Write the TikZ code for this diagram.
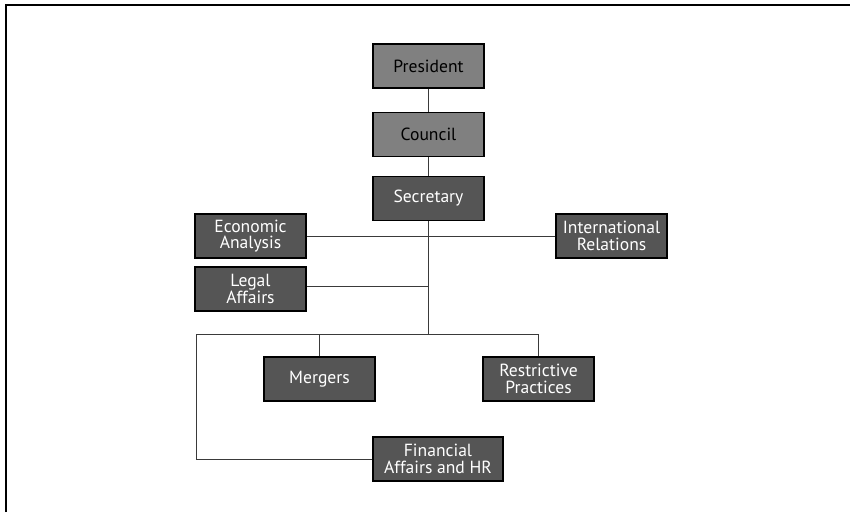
\documentclass[tikz,border=0pt]{standalone}
\usepackage{fontspec}
\setmainfont{PT Sans}
\usepackage{tikz}
\usetikzlibrary{positioning}

\definecolor{lightbox}{HTML}{808080}
\definecolor{darkbox}{HTML}{555555}
\definecolor{linkgray}{HTML}{3A3A3A}

\begin{document}
\begin{tikzpicture}[unitbox/.style={rectangle, draw=black, line width=0.7pt, minimum width=2.22cm, minimum height=0.88cm, inner sep=0pt, align=center, font=\fontsize{10}{9.4}\selectfont}, topbox/.style={unitbox, fill=lightbox, text=black}, deptbox/.style={unitbox, fill=darkbox, text=white}, link/.style={draw=linkgray, line width=0.5pt}]

  \useasboundingbox (0,0) rectangle (17,-10.24);
  \draw[line width=1.2pt] (0.12,-10.24) -- (0.12,-0.1) -- (17,-0.1);

  \node[topbox] (pres) at (8.57,-1.32) {President};
  \node[topbox] (coun) [below = 0.46cm of pres] {Council};
  \node[deptbox] (secr) [below = 0.38cm of coun] {Secretary};
  \node[deptbox] (econ) at (5.01,-4.72) {Economic\\Analysis};
  \node[deptbox] (intl) at (12.23,-4.72) {International\\Relations};
  \node[deptbox] (legal) at (5.01,-5.78) {Legal\\Affairs};
  \node[deptbox] (merg) at (6.39,-7.58) {Mergers};
  \node[deptbox] (restr) at (10.77,-7.58) {Restrictive\\Practices};
  \node[deptbox, minimum width=2.6cm] (fin) at (8.76,-9.18) {Financial\\Affairs and HR};
  \coordinate (bus) at (8.57,-6.68);
  \coordinate (corner) at (3.92,-6.68);

  \path[link]
    (pres) -- (coun)
    (coun) -- (secr)
    (secr) -- (bus)
    (econ) -- (intl)
    ([yshift=0.06cm]legal.east) -- ([yshift=0.06cm]legal.east -| bus)
    (corner) -- (bus)
    (bus) -| (restr)
    (merg) -- (merg |- bus)
    (corner) |- (fin)
  ;
\end{tikzpicture}
\end{document}
